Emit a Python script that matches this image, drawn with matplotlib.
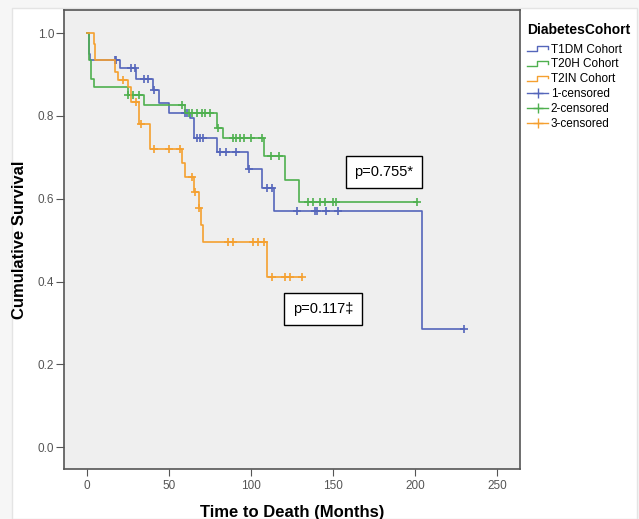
import numpy as np
import matplotlib
matplotlib.use("Agg")
import matplotlib.pyplot as plt
from matplotlib.lines import Line2D
from matplotlib.patches import Rectangle
from matplotlib.legend_handler import HandlerBase

plt.rcParams['font.family'] = ['Liberation Sans', 'DejaVu Sans']

# Kaplan-Meier steps (time in months, survival after the step) + censored times
t1dm_t = [0, 1, 1.5, 2, 20, 30, 40, 44, 50, 63, 65, 79, 98, 107, 114, 204]
t1dm_s = [1.0, 0.97, 0.95, 0.935, 0.915, 0.889, 0.862, 0.831, 0.806, 0.794, 0.746, 0.712, 0.671, 0.625, 0.570, 0.285]
t1dm_cens = [17, 18, 27, 29, 35, 37, 41, 60, 61, 67, 69, 71, 81, 85, 91, 99, 110, 113,
             128, 139, 140, 146, 153, 230]

t20h_t = [0, 1, 1.5, 2.5, 4, 25, 35, 60, 79, 83, 108, 121, 129]
t20h_s = [1.0, 0.96, 0.935, 0.89, 0.87, 0.85, 0.826, 0.806, 0.771, 0.746, 0.703, 0.645, 0.592]
t20h_cens = [25, 28, 32, 58, 62, 64, 67, 70, 72, 75, 80, 89, 91, 93, 96, 100, 107, 112, 117,
             135, 138, 142, 145, 150, 152, 201]

t2in_t = [0, 4, 5, 17, 19, 25, 27, 32, 38.5, 58, 60, 65, 68, 69.5, 71, 110]
t2in_s = [1.0, 0.974, 0.935, 0.906, 0.886, 0.87, 0.833, 0.78, 0.72, 0.686, 0.652, 0.616, 0.577, 0.536, 0.495, 0.41]
t2in_cens = [22, 30, 33, 41, 50, 57, 64, 66, 68.5, 86, 89, 101, 104, 108, 113, 121, 124, 131]

groups = ["T1DM Cohort", "T20H Cohort", "T2IN Cohort"]
colors = ["#5566bb", "#4fb04f", "#f5a030"]


class StepHandler(HandlerBase):
    def create_artists(self, legend, orig_handle, xdescent, ydescent,
                       width, height, fontsize, trans):
        xs = np.array([0, 0.45, 0.45, 1.0, 1.0]) * width - xdescent
        ys = np.array([0.2, 0.2, 0.8, 0.8, 0.45]) * height - ydescent
        ln = Line2D(xs, ys, color=orig_handle.get_color(), lw=1.0, transform=trans)
        return [ln]


fig = plt.figure(figsize=(6.39, 5.19), dpi=100)
fig.patches.append(Rectangle((12 / 639, 0), 625 / 639, 511 / 519, transform=fig.transFigure,
                             facecolor="white", edgecolor="#e4e4e4", lw=1, zorder=-10))
fig.patch.set_facecolor("#f6f6f6")
ax = fig.add_axes([64 / 639, 50 / 519, 456 / 639, 459 / 519])
ax.set_facecolor("#efefef")

series = [(t1dm_t, t1dm_s, t1dm_cens), (t20h_t, t20h_s, t20h_cens), (t2in_t, t2in_s, t2in_cens)]
for (tt, ss, cc), col in zip(series, colors):
    tt = np.array(tt, dtype=float)
    ss = np.array(ss, dtype=float)
    cc = np.array(cc, dtype=float)
    end = max(cc.max(), tt.max())
    ax.step(np.append(tt, end), np.append(ss, ss[-1]), where="post", color=col, lw=1.2)
    idx = np.searchsorted(tt, cc, side="right") - 1
    ax.plot(cc, ss[idx], "+", color=col, ms=6, mew=1.2, ls="none")

ax.set_xlim(-14, 264)
ax.set_ylim(-0.053, 1.056)
ax.set_xticks([0, 50, 100, 150, 200, 250])
ax.set_yticks([0.0, 0.2, 0.4, 0.6, 0.8, 1.0])
ax.set_yticklabels(["0.0", "0.2", "0.4", "0.6", "0.8", "1.0"])
ax.tick_params(axis="both", direction="out", colors="#555555", labelsize=8.5)
ax.tick_params(axis="y", length=6, pad=1)
ax.tick_params(axis="x", length=5, pad=3)
for sp in ax.spines.values():
    sp.set_color("#555555")
    sp.set_linewidth(1.2)

ax.set_xlabel("Time to Death (Months)", fontsize=12, fontweight="bold", labelpad=9)
ax.set_ylabel("Cumulative Survival", fontsize=12, fontweight="bold", labelpad=8)

ax.text(181, 0.665, "p=0.755*", fontsize=10.5, ha="center", va="center",
        bbox=dict(boxstyle="square,pad=0.6", facecolor="white", edgecolor="black", lw=1))
ax.text(144, 0.333, "p=0.117\u2021", fontsize=10.5, ha="center", va="center",
        bbox=dict(boxstyle="square,pad=0.6", facecolor="white", edgecolor="black", lw=1))

handles = [Line2D([], [], color=c) for c in colors]
handles += [Line2D([], [], color=c, marker="+", ms=7, mew=1, lw=1) for c in colors]
labels = groups + ["1-censored", "2-censored", "3-censored"]
handler_map = {h: StepHandler() for h in handles[:3]}
leg = ax.legend(handles, labels, handler_map=handler_map, loc="upper left",
                bbox_to_anchor=(1.0, 0.988), frameon=False, fontsize=8.5,
                title="DiabetesCohort", title_fontproperties={"weight": "bold", "size": 10},
                labelspacing=0.24, handlelength=1.8, handletextpad=0.2, borderaxespad=0.3,
                borderpad=0.3, alignment="left")
leg._legend_box.sep = 5

fig.savefig("out.png", dpi=100)
